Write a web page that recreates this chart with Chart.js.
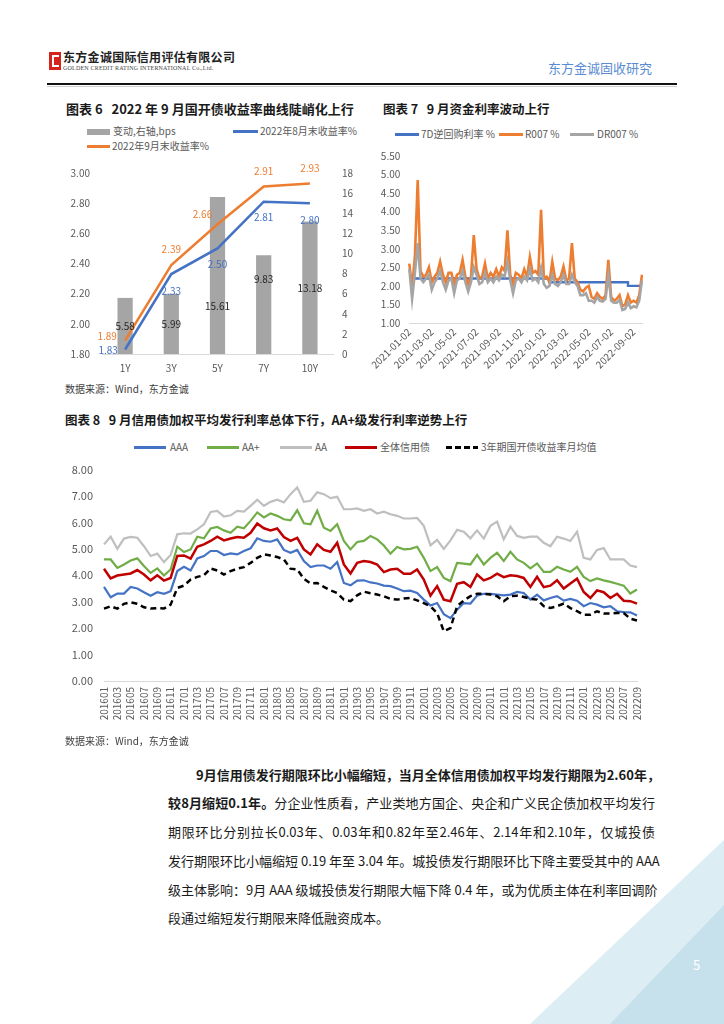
<!DOCTYPE html>
<html>
<head>
<meta charset="utf-8">
<script src="https://cdn.jsdelivr.net/npm/chart.js@4.4.1/dist/chart.umd.min.js"></script>
<style>
html, body { margin: 0; padding: 0; background: #fff; }
body { width: 724px; height: 1024px; position: relative; overflow: hidden; font-family: "Noto Sans CJK SC", "Noto Sans", sans-serif; color: #262626; }
.a { position: absolute; white-space: nowrap; }
.title { font-weight: bold; font-size: 13px; color: #1a1a1a; line-height: 16px; }
.lgt { font-size: 10px; color: #595959; line-height: 12px; }
.src { font-size: 10px; color: #404040; line-height: 12px; }
.body-line { position: absolute; font-size: 13px; line-height: 18px; color: #1a1a1a; text-align: justify; text-align-last: justify; white-space: nowrap; }
.body-line b { font-weight: bold; }
canvas { position: absolute; }
</style>
</head>
<body>

<!-- header -->
<div class="a" style="left:49px;top:52px;width:12px;height:18px;background:#d7231e;"></div>
<div class="a" style="left:52px;top:55px;width:7px;height:12px;background:#fff;"></div>
<div class="a" style="left:54px;top:57px;width:5px;height:8px;background:#d7231e;"></div>
<div class="a" style="left:63px;top:50px;font-family:'Noto Sans CJK SC';font-weight:bold;font-size:12px;line-height:14px;color:#222;letter-spacing:0.3px;">东方金诚国际信用评估有限公司</div>
<div class="a" style="left:63px;top:65px;font-family:'Liberation Serif';font-size:6px;line-height:7px;color:#444;letter-spacing:0.2px;">GOLDEN CREDIT RATING INTERNATIONAL Co.,Ltd.</div>
<div class="a" style="left:548px;top:59px;font-size:13px;line-height:17px;color:#5b8bd3;">东方金诚固收研究</div>
<div class="a" style="left:47px;top:83px;width:630px;height:2px;background:#111;"></div>
<div class="a" style="left:47px;top:86px;width:630px;height:1px;background:#d0d0d0;"></div>

<!-- chart 6 -->
<div class="a title" style="left:66px;top:101px;">图表 6&nbsp;&nbsp; 2022 年 9 月国开债收益率曲线陡峭化上行</div>
<div class="a" style="left:87px;top:129px;width:23px;height:6px;background:#A5A5A5;"></div>
<div class="a lgt" style="left:113px;top:125px;">变动,右轴,bps</div>
<div class="a" style="left:233px;top:130px;width:25px;height:3px;background:#4472C4;"></div>
<div class="a lgt" style="left:260px;top:125px;">2022年8月末收益率%</div>
<div class="a" style="left:87px;top:145px;width:23px;height:3px;background:#ED7D31;"></div>
<div class="a lgt" style="left:112px;top:140px;">2022年9月末收益率%</div>
<canvas id="c6" width="300" height="225" style="left:60px;top:150px;"></canvas>

<!-- chart 7 -->
<div class="a title" style="left:383px;top:101px;font-size:12.5px;">图表 7&nbsp;&nbsp; 9 月资金利率波动上行</div>
<div class="a" style="left:395px;top:133px;width:24px;height:3px;background:#4472C4;"></div>
<div class="a lgt" style="left:421px;top:128px;">7D逆回购利率 %</div>
<div class="a" style="left:499px;top:133px;width:24px;height:3px;background:#ED7D31;"></div>
<div class="a lgt" style="left:525px;top:128px;">R007 %</div>
<div class="a" style="left:570px;top:133px;width:24px;height:3px;background:#A5A5A5;"></div>
<div class="a lgt" style="left:597px;top:128px;">DR007 %</div>
<canvas id="c7" width="287" height="245" style="left:370px;top:141px;"></canvas>

<div class="a src" style="left:65px;top:383px;">数据来源：Wind，东方金诚</div>

<!-- chart 8 -->
<div class="a title" style="left:65px;top:412px;font-size:12.5px;">图表 8&nbsp;&nbsp; 9 月信用债加权平均发行利率总体下行，AA+级发行利率逆势上行</div>
<div class="a" style="left:134px;top:446px;width:32px;height:3px;background:#4472C4;"></div>
<div class="a lgt" style="left:170px;top:441px;">AAA</div>
<div class="a" style="left:207px;top:446px;width:32px;height:3px;background:#70AD47;"></div>
<div class="a lgt" style="left:242px;top:441px;">AA+</div>
<div class="a" style="left:280px;top:446px;width:32px;height:3px;background:#BFBFBF;"></div>
<div class="a lgt" style="left:315px;top:441px;">AA</div>
<div class="a" style="left:345px;top:446px;width:32px;height:3px;background:#C00000;"></div>
<div class="a lgt" style="left:380px;top:441px;">全体信用债</div>
<div class="a" style="left:446px;top:446px;width:32px;height:3px;background:repeating-linear-gradient(90deg,#000 0 6px,transparent 6px 9px);"></div>
<div class="a lgt" style="left:481px;top:441px;">3年期国开债收益率月均值</div>
<canvas id="c8" width="600" height="285" style="left:55px;top:452px;"></canvas>

<div class="a src" style="left:65px;top:735px;">数据来源：Wind，东方金诚</div>

<!-- body text -->
<div class="body-line" style="left:196px;top:766px;width:459px;"><b>9月信用债发行期限环比小幅缩短，当月全体信用债加权平均发行期限为2.60年，</b></div>
<div class="body-line" style="left:168px;top:794px;width:487px;"><b>较8月缩短0.1年。</b>分企业性质看，产业类地方国企、央企和广义民企债加权平均发行</div>
<div class="body-line" style="left:168px;top:823px;width:487px;">期限环比分别拉长0.03年、0.03年和0.82年至2.46年、2.14年和2.10年，仅城投债</div>
<div class="body-line" style="left:168px;top:852px;width:487px;">发行期限环比小幅缩短 0.19 年至 3.04 年。城投债发行期限环比下降主要受其中的 AAA</div>
<div class="body-line" style="left:168px;top:881px;width:487px;">级主体影响：9月 AAA 级城投债发行期限大幅下降 0.4 年，或为优质主体在利率回调阶</div>
<div class="body-line" style="left:168px;top:909px;text-align-last:left;">段通过缩短发行期限来降低融资成本。</div>

<!-- corner decoration -->
<div class="a" style="left:0;top:0;width:724px;height:1024px;background:#dcedf4;clip-path:polygon(724px 840px,724px 1024px,530px 1024px);"></div>
<div class="a" style="left:0;top:0;width:724px;height:1024px;background:#c6e1ec;clip-path:polygon(724px 905px,724px 1024px,610px 1024px);"></div>
<div class="a" style="left:693px;top:957px;font-size:13px;line-height:16px;color:#fff;">5</div>

<script>
Chart.defaults.font.family = '"Noto Sans CJK SC", "Noto Sans", sans-serif';
Chart.defaults.color = "#595959";

// ---- chart 6 data ----
const tenors6 = ["1Y", "3Y", "5Y", "7Y", "10Y"];
const change6 = [5.58, 5.99, 15.61, 9.83, 13.18];
const aug6 = [1.83, 2.33, 2.50, 2.81, 2.80];
const sep6 = [1.89, 2.39, 2.66, 2.91, 2.93];

// ---- chart 7 data (sampled weekly: 2nd, 9th, 16th, 23rd of each month) ----
const ticks7 = ["2021-01-02", "2021-03-02", "2021-05-02", "2021-07-02", "2021-09-02", "2021-11-02",
  "2022-01-02", "2022-03-02", "2022-05-02", "2022-07-02", "2022-09-02"];
const days7 = ["02", "09", "16", "23"];
const repo7 = [
  2.2, 2.2, 2.2, 2.2, 2.2, 2.2, 2.2, 2.2, 2.2, 2.2, 2.2, 2.2, 2.2, 2.2, 2.2, 2.2,
  2.2, 2.2, 2.2, 2.2, 2.2, 2.2, 2.2, 2.2, 2.2, 2.2, 2.2, 2.2, 2.2, 2.2, 2.2, 2.2,
  2.2, 2.2, 2.2, 2.2, 2.2, 2.2, 2.2, 2.2, 2.2, 2.2, 2.2, 2.2, 2.2, 2.2, 2.2, 2.2,
  2.2, 2.2, 2.1, 2.1, 2.1, 2.1, 2.1, 2.1, 2.1, 2.1, 2.1, 2.1, 2.1, 2.1, 2.1, 2.1,
  2.1, 2.1, 2.1, 2.1, 2.1, 2.1, 2.1, 2.1, 2.1, 2.1, 2.1, 2.1, 2.1, 2.1, 2.0, 2.0,
  2.0, 2.0, 2.0, 2.0
];
const r007 = [
  2.60, 1.95, 2.80, 4.85, 2.40, 2.25, 2.30, 2.50,
  2.10, 2.25, 2.35, 2.65, 2.30, 2.10, 2.35, 2.35,
  2.05, 2.30, 2.35, 2.70, 2.25, 2.05, 2.25, 3.37,
  2.45, 2.20, 2.25, 2.60, 2.20, 2.35, 2.25, 2.45,
  2.25, 2.50, 2.40, 3.50, 2.30, 2.05, 2.35, 2.30,
  2.20, 2.45, 2.25, 2.78, 2.35, 2.40, 2.30, 4.05,
  2.20, 2.25, 2.10, 2.65, 2.20, 2.15, 2.25, 2.52,
  2.15, 2.20, 3.15, 2.20, 2.10, 1.90, 1.85, 1.95,
  2.00, 1.70, 1.65, 1.80, 1.70, 1.65, 1.75, 2.70,
  1.70, 1.60, 1.65, 1.75, 1.45, 1.50, 1.75, 1.55,
  1.60, 1.55, 1.75, 2.30
];
const dr007 = [
  2.45, 1.65, 2.35, 3.15, 2.20, 2.10, 2.20, 2.30,
  1.90, 2.10, 2.20, 2.40, 2.10, 1.90, 2.15, 2.20,
  1.80, 2.15, 2.20, 2.40, 2.10, 1.85, 2.10, 2.50,
  2.30, 2.05, 2.10, 2.35, 2.10, 2.20, 2.10, 2.25,
  2.15, 2.30, 2.25, 2.65, 2.15, 1.80, 2.15, 2.20,
  2.10, 2.25, 2.15, 2.45, 2.15, 2.20, 2.10, 2.48,
  2.05, 1.95, 2.00, 2.30, 2.05, 2.00, 2.10, 2.30,
  2.05, 2.05, 2.30, 2.10, 2.00, 1.75, 1.75, 1.80,
  1.60, 1.60, 1.55, 1.70, 1.60, 1.58, 1.65, 2.30,
  1.60, 1.55, 1.55, 1.62, 1.35, 1.38, 1.55, 1.40,
  1.45, 1.42, 1.60, 2.15
];

// ---- chart 8 data (monthly, 201601 - 202209) ----
const aaa8 = [3.56, 3.17, 3.31, 3.31, 3.56, 3.50, 3.36, 3.23, 3.36, 3.30, 3.40,
  4.16, 4.32, 4.18, 4.64, 4.73, 4.92, 4.92, 4.77, 4.83, 4.79,
  4.92, 5.02, 5.40, 5.30, 5.27, 5.36, 4.96, 4.85, 4.96, 4.54,
  4.31, 4.37, 4.37, 4.25, 4.50, 3.71, 3.62, 3.80, 3.81, 3.73,
  3.69, 3.61, 3.59, 3.50, 3.40, 3.42, 3.33, 3.08, 2.86, 2.95,
  2.53, 2.38, 2.70, 2.95, 2.93, 3.23, 3.30, 3.30, 3.27, 3.24,
  3.27, 3.37, 3.33, 3.08, 3.27, 3.05, 3.14, 3.21, 3.04, 3.11,
  3.04, 2.83, 2.95, 2.89, 2.79, 2.83, 2.64, 2.61, 2.60, 2.48];
const aap8 = [4.60, 4.60, 4.28, 4.41, 4.56, 4.64, 4.35, 4.09, 4.26, 3.99, 4.22,
  5.08, 4.88, 4.98, 5.46, 5.40, 5.77, 5.83, 5.70, 5.61, 5.84,
  5.78, 6.06, 6.38, 6.19, 6.34, 6.25, 6.12, 6.08, 6.46, 5.97,
  5.93, 6.44, 5.80, 5.68, 5.93, 5.30, 4.98, 5.26, 5.30, 5.49,
  5.36, 5.13, 4.82, 5.07, 4.98, 5.00, 5.08, 4.66, 4.16, 4.31,
  3.90, 3.78, 4.47, 4.44, 4.41, 4.77, 4.41, 4.66, 4.85, 4.54,
  4.89, 4.60, 4.47, 4.26, 4.45, 4.13, 4.13, 4.32, 4.22, 4.13,
  4.32, 3.94, 3.78, 3.88, 3.81, 3.75, 3.68, 3.61, 3.31, 3.46];
const aa8 = [5.17, 5.46, 5.00, 5.39, 5.45, 5.42, 5.10, 4.73, 4.82, 4.50, 4.77,
  5.55, 5.59, 5.58, 5.74, 5.93, 6.40, 6.44, 6.22, 6.27, 6.44,
  6.41, 6.63, 6.86, 6.63, 6.78, 6.86, 6.76, 7.07, 7.33, 6.78,
  6.82, 7.14, 7.07, 6.92, 6.97, 6.50, 6.50, 6.53, 6.44, 6.50,
  6.34, 6.41, 6.31, 6.25, 6.15, 6.15, 6.17, 5.87, 5.13, 5.34,
  5.00, 5.32, 5.72, 5.65, 5.40, 5.70, 5.39, 5.87, 6.03, 5.36,
  5.84, 5.49, 5.42, 5.46, 5.46, 5.23, 5.10, 5.46, 5.39, 5.30,
  5.65, 4.66, 4.60, 4.96, 5.03, 4.60, 4.60, 4.60, 4.37, 4.31];
const all8 = [4.25, 3.88, 3.99, 4.03, 4.07, 4.20, 4.03, 3.81, 4.00, 3.80, 3.90,
  4.73, 4.75, 4.63, 5.08, 5.17, 5.30, 5.46, 5.32, 5.39, 5.45,
  5.42, 5.61, 5.96, 5.78, 5.70, 5.77, 5.45, 5.30, 5.42, 4.98,
  4.79, 5.17, 4.96, 4.89, 5.23, 4.41, 4.07, 4.47, 4.54, 4.50,
  4.41, 4.12, 4.22, 4.25, 4.06, 4.06, 4.22, 3.84, 3.23, 3.59,
  3.08, 3.02, 3.68, 3.74, 3.56, 4.03, 3.81, 3.90, 4.06, 3.93,
  4.00, 3.97, 3.90, 3.56, 3.94, 3.55, 3.61, 3.81, 3.50, 3.69,
  3.87, 3.37, 3.14, 3.43, 3.36, 3.14, 3.30, 3.04, 3.02, 2.93];
const cdb3y8 = [2.74, 2.83, 2.74, 2.92, 2.98, 2.92, 2.79, 2.74, 2.76, 2.74, 2.89,
  3.52, 3.61, 3.84, 3.94, 4.00, 4.26, 4.18, 4.03, 4.16, 4.25,
  4.31, 4.47, 4.66, 4.79, 4.75, 4.69, 4.60, 4.25, 4.22, 3.87,
  3.69, 3.71, 3.56, 3.43, 3.33, 3.08, 3.02, 3.24, 3.38, 3.32,
  3.27, 3.21, 3.11, 3.08, 3.12, 3.14, 3.05, 2.95, 2.83, 2.57,
  1.88, 2.00, 2.83, 3.05, 3.21, 3.30, 3.30, 3.27, 3.21, 3.02,
  3.21, 3.23, 3.18, 3.11, 3.08, 2.83, 2.76, 2.83, 2.93, 2.76,
  2.64, 2.51, 2.51, 2.64, 2.55, 2.55, 2.57, 2.57, 2.36, 2.29];

// category labels
const labels7 = [];
for (const y of [2021, 2022]) {
  const lastMonth = y === 2022 ? 9 : 12;
  for (let m = 1; m <= lastMonth; m++) {
    days7.forEach(d => labels7.push(`${y}-${String(m).padStart(2, "0")}-${d}`));
  }
}
const labels8 = [];
for (let y = 2016; y <= 2022; y++) {
  for (let m = 1; m <= 12; m++) {
    if (y === 2022 && m > 9) break;
    labels8.push(`${y}${String(m).padStart(2, "0")}`);
  }
}

// draws value labels next to points / inside bars
const valueLabels = {
  id: "valueLabels",
  afterDatasetsDraw(chart) {
    const ctx = chart.ctx;
    chart.data.datasets.forEach((ds, di) => {
      const s = ds.valueLabel;
      if (!s) return;
      chart.getDatasetMeta(di).data.forEach((el, i) => {
        const x = el.x + (s.dx ? s.dx[i] : 0);
        const y = (s.center ? (el.y + el.base) / 2 : el.y) + (s.dy ? s.dy[i] : 0);
        ctx.save();
        ctx.font = '10px "Noto Sans CJK SC", sans-serif';
        ctx.fillStyle = s.color;
        ctx.textAlign = "center";
        ctx.textBaseline = "middle";
        ctx.fillText(ds.data[i].toFixed(2), x, y);
        ctx.restore();
      });
    });
  }
};

const noGrid = { display: false, drawTicks: false };

new Chart(document.getElementById("c6"), {
  type: "bar",
  data: {
    labels: tenors6,
    datasets: [
      {
        type: "line", label: "2022年9月末收益率%", data: sep6, yAxisID: "y",
        borderColor: "#ED7D31", borderWidth: 2.5, pointRadius: 0, order: 1,
        valueLabel: { color: "#ED7D31", dx: [-18, 0, -15, 0, 0], dy: [-4, -16, -10, -15, -15] }
      },
      {
        type: "line", label: "2022年8月末收益率%", data: aug6, yAxisID: "y",
        borderColor: "#4472C4", borderWidth: 2.5, pointRadius: 0, order: 2,
        valueLabel: { color: "#4472C4", dx: [-17, 0, 0, 0, 0], dy: [1, 17, 16, 16, 17] }
      },
      {
        type: "bar", label: "变动,右轴,bps", data: change6, yAxisID: "y1",
        backgroundColor: "#A5A5A5", categoryPercentage: 1, barPercentage: 0.33, order: 3,
        valueLabel: { color: "#262626", center: true, dy: [0, 0, 31, -25, 0] }
      }
    ]
  },
  options: {
    responsive: false, animation: false, devicePixelRatio: 1,
    layout: { padding: { top: 23 } },
    plugins: { legend: { display: false }, tooltip: { enabled: false } },
    scales: {
      x: {
        grid: noGrid, border: { color: "#d9d9d9" },
        ticks: { padding: 8, font: { size: 10 } },
        afterFit(s) { s.height = 21; }
      },
      y: {
        position: "left", min: 1.8, max: 3.0,
        grid: noGrid, border: { display: false },
        ticks: { stepSize: 0.2, padding: 12, font: { size: 10 }, callback: v => v.toFixed(2) },
        afterFit(s) { s.width = 42; }
      },
      y1: {
        position: "right", min: 0, max: 18,
        grid: noGrid, border: { display: false },
        ticks: { stepSize: 2, padding: 9, font: { size: 10 } },
        afterFit(s) { s.width = 27; }
      }
    }
  },
  plugins: [valueLabels]
});

new Chart(document.getElementById("c7"), {
  type: "line",
  data: {
    labels: labels7,
    datasets: [
      { label: "DR007 %", data: dr007, borderColor: "#A5A5A5", borderWidth: 2.6, pointRadius: 0, order: 1 },
      { label: "R007 %", data: r007, borderColor: "#ED7D31", borderWidth: 2.6, pointRadius: 0, order: 2 },
      { label: "7D逆回购利率 %", data: repo7, borderColor: "#4472C4", borderWidth: 2.4, pointRadius: 0, stepped: true, order: 3 }
    ]
  },
  options: {
    responsive: false, animation: false, devicePixelRatio: 1,
    layout: { padding: { top: 8, right: 15 } },
    plugins: { legend: { display: false }, tooltip: { enabled: false } },
    scales: {
      x: {
        grid: noGrid, border: { color: "#d9d9d9" },
        ticks: {
          autoSkip: false, minRotation: 45, maxRotation: 45, padding: 3, font: { size: 10 },
          callback: (v, i) => (ticks7.includes(labels7[i]) ? labels7[i] : "")
        },
        afterFit(s) { s.height = 63; }
      },
      y: {
        min: 1, max: 5.5,
        grid: noGrid, border: { display: false },
        ticks: { stepSize: 0.5, padding: 9, font: { size: 10 }, callback: v => v.toFixed(2) },
        afterFit(s) { s.width = 37; }
      }
    }
  }
});

new Chart(document.getElementById("c8"), {
  type: "line",
  data: {
    labels: labels8,
    datasets: [
      { label: "3年期国开债收益率月均值", data: cdb3y8, borderColor: "#000", borderWidth: 2.5, borderDash: [6, 4], pointRadius: 0, order: 1 },
      { label: "全体信用债", data: all8, borderColor: "#C00000", borderWidth: 2.5, pointRadius: 0, order: 2 },
      { label: "AAA", data: aaa8, borderColor: "#4472C4", borderWidth: 2.2, pointRadius: 0, order: 3 },
      { label: "AA+", data: aap8, borderColor: "#70AD47", borderWidth: 2.2, pointRadius: 0, order: 4 },
      { label: "AA", data: aa8, borderColor: "#BFBFBF", borderWidth: 2.2, pointRadius: 0, order: 5 }
    ]
  },
  options: {
    responsive: false, animation: false, devicePixelRatio: 1,
    layout: { padding: { top: 9, right: 12 } },
    plugins: { legend: { display: false }, tooltip: { enabled: false } },
    scales: {
      x: {
        offset: false,
        grid: noGrid, border: { color: "#d9d9d9" },
        ticks: {
          autoSkip: false, minRotation: 90, maxRotation: 90, padding: 6, font: { size: 10 },
          callback: (v, i) => (i % 2 === 0 ? labels8[i] : "")
        },
        afterFit(s) { s.height = 56; }
      },
      y: {
        min: 0, max: 8,
        grid: noGrid, border: { display: false },
        ticks: { stepSize: 1, padding: 11, font: { size: 11 }, callback: v => v.toFixed(2) },
        afterFit(s) { s.width = 49; }
      }
    }
  }
});
</script>
</body>
</html>
